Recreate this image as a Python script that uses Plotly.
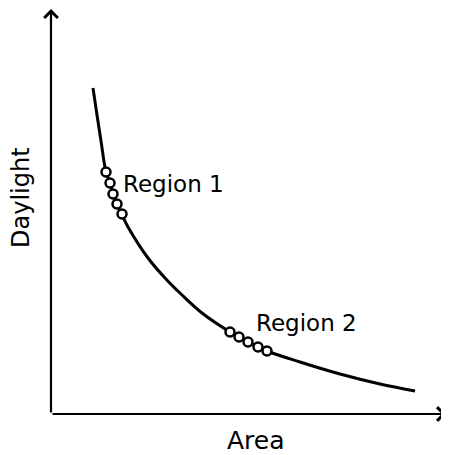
import plotly.graph_objects as go

# Curve (Area vs Daylight, arbitrary units)
curve_x = [42, 46, 50, 55, 59, 62, 66, 71, 77, 97, 114, 131, 151, 179, 197, 216, 249, 289, 329, 364]
curve_y = [326, 299, 273, 242, 231, 220, 210, 199, 187, 156, 136, 119, 101, 82, 72, 63, 52, 40, 30, 23]

region1_x = [55, 59, 62, 66, 71]
region1_y = [242, 231, 220, 210, 200]
region2_x = [179, 188, 197, 207, 216]
region2_y = [82, 77, 72, 67, 63]

labels = ["Region 1", "Region 2"]
x_title = "Area"
y_title = "Daylight"

FONT = "DejaVu Sans"

fig = go.Figure()
fig.add_trace(go.Scatter(x=curve_x, y=curve_y, mode="lines",
                         line=dict(color="black", width=3, shape="spline", smoothing=1.0),
                         hoverinfo="skip", showlegend=False))
for xs, ys in [(region1_x, region1_y), (region2_x, region2_y)]:
    fig.add_trace(go.Scatter(x=xs, y=ys, mode="markers",
                             marker=dict(symbol="circle", size=9, color="white",
                                         line=dict(color="black", width=2.5)),
                             showlegend=False))

# Axes with arrows
fig.add_annotation(x=0, y=405, ax=0, ay=0, xref="x", yref="y", axref="x", ayref="y",
                   text="", showarrow=True, arrowhead=4, arrowsize=1.2, arrowwidth=2.2,
                   arrowcolor="black", standoff=0, startstandoff=0)
fig.add_annotation(x=395, y=0, ax=0, ay=0, xref="x", yref="y", axref="x", ayref="y",
                   text="", showarrow=True, arrowhead=4, arrowsize=1.2, arrowwidth=2.2,
                   arrowcolor="black", standoff=0, startstandoff=0)

fig.add_annotation(x=70, y=230, text=labels[0], showarrow=False, xanchor="left", yanchor="middle",
                   font=dict(family=FONT, size=23, color="black"))
fig.add_annotation(x=203, y=91, text=labels[1], showarrow=False, xanchor="left", yanchor="middle",
                   font=dict(family=FONT, size=23, color="black"))
fig.add_annotation(x=205, y=-26, text=x_title, showarrow=False, xanchor="center", yanchor="middle",
                   font=dict(family=FONT, size=25, color="black"))
fig.add_annotation(x=-30, y=216, text=y_title, showarrow=False, textangle=-90,
                   xanchor="center", yanchor="middle",
                   font=dict(family=FONT, size=24, color="black"))

# The page body adds an 8px margin, so the figure is 8px smaller and ranges shifted.
fig.update_layout(width=441, height=447, margin=dict(l=0, r=0, t=0, b=0),
                  paper_bgcolor="white", plot_bgcolor="white", showlegend=False)
fig.update_xaxes(range=[-43, 398], visible=False, fixedrange=True)
fig.update_yaxes(range=[-41, 406], visible=False, fixedrange=True)

fig.write_html("out.html")
